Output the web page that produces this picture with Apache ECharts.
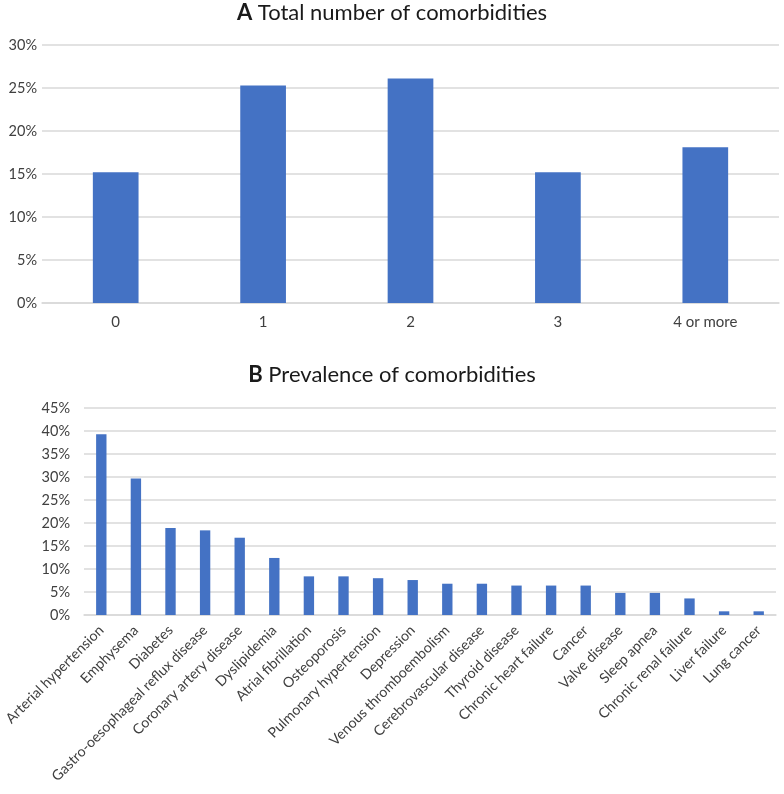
<!DOCTYPE html>
<html><head><meta charset="utf-8">
<script src="https://cdn.jsdelivr.net/npm/echarts@6/dist/echarts.min.js"></script>
<style>html,body{margin:0;padding:0;background:#fff}#c{width:784px;height:794px}</style>
</head><body><div id="c"></div>
<script>
const catsA = ['0','1','2','3','4 or more'];
const valsA = [15.2, 25.3, 26.1, 15.2, 18.1];
const catsB = ['Arterial hypertension','Emphysema','Diabetes','Gastro-oesophageal reflux disease','Coronary artery disease','Dyslipidemia','Atrial fibrillation','Osteoporosis','Pulmonary hypertension','Depression','Venous thromboembolism','Cerebrovascular disease','Thyroid disease','Chronic heart failure','Cancer','Valve disease','Sleep apnea','Chronic renal failure','Liver failure','Lung cancer'];
const valsB = [39.3, 29.7, 18.9, 18.4, 16.8, 12.4, 8.4, 8.4, 8.0, 7.6, 6.8, 6.8, 6.4, 6.4, 6.4, 4.8, 4.8, 3.6, 0.8, 0.8];
const titleA = ['A', 'Total number of comorbidities'];
const titleB = ['B', 'Prevalence of comorbidities'];

const font = 'Lato, "Open Sans", sans-serif';
const labelColor = '#404040';
const barColor = '#4472C4';
const gridColor = '#d9d9d9';

const chart = echarts.init(document.getElementById('c'), null, {renderer:'canvas'});
function mkTitle(t, top){
  return {
    text: '{b|' + t[0] + '} ' + t[1],
    left: 'center', top: top,
    textStyle: {
      fontFamily: font, fontSize: 22, color: '#1a1a1a', fontWeight: 'normal',
      rich: { b: { fontFamily: font, fontSize: 22, fontWeight: 'bold', color: '#1a1a1a' } }
    }
  };
}
chart.setOption({
  animation: false,
  title: [mkTitle(titleA, -3), mkTitle(titleB, 359)],
  grid: [
    {left: 42, right: 5, top: 45, height: 258, containLabel: false, outerBoundsMode: 'none'},
    {left: 84, width: 692, top: 408, height: 207, containLabel: false, outerBoundsMode: 'none'}
  ],
  xAxis: [
    {type:'category', gridIndex:0, data: catsA,
     axisLine:{lineStyle:{color:gridColor, width:1.5}}, axisTick:{show:false},
     axisLabel:{fontFamily:font, fontSize:15, color:labelColor, margin:12}},
    {type:'category', gridIndex:1, data: catsB,
     axisLine:{lineStyle:{color:gridColor, width:1.5}}, axisTick:{show:false},
     axisLabel:{fontFamily:font, fontSize:14.2, color:labelColor, rotate:45, interval:0, margin:13}}
  ],
  yAxis: [
    {type:'value', gridIndex:0, min:0, max:30, interval:5,
     axisLine:{show:false}, axisTick:{show:false},
     splitLine:{lineStyle:{color:gridColor, width:1.5}},
     axisLabel:{fontFamily:font, fontSize:14.5, color:labelColor, formatter:'{value}%', margin:5}},
    {type:'value', gridIndex:1, min:0, max:45, interval:5,
     axisLine:{show:false}, axisTick:{show:false},
     splitLine:{lineStyle:{color:gridColor, width:1.5}},
     axisLabel:{fontFamily:font, fontSize:14.5, color:labelColor, formatter:'{value}%', margin:14}}
  ],
  series: [
    {type:'bar', xAxisIndex:0, yAxisIndex:0, data: valsA, barWidth:'31%', itemStyle:{color:barColor}},
    {type:'bar', xAxisIndex:1, yAxisIndex:1, data: valsB, barWidth:'30%', itemStyle:{color:barColor}}
  ]
});
</script></body></html>
